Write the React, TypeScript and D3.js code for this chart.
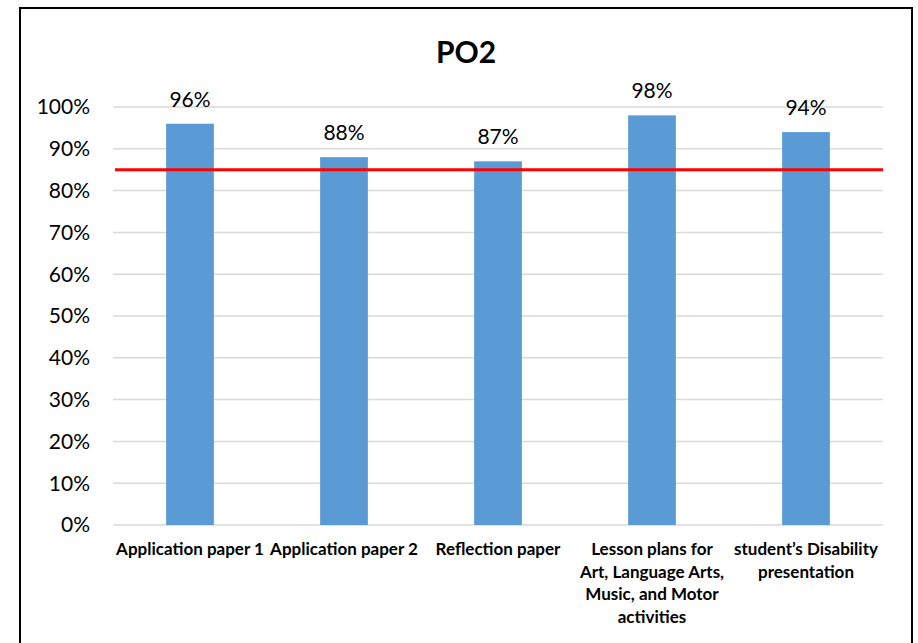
import React from "react";
import * as d3 from "d3";

const categories: string[][] = [
  ["Application paper 1"],
  ["Application paper 2"],
  ["Reflection paper"],
  ["Lesson plans for", "Art, Language Arts,", "Music, and Motor", "activities"],
  ["student\u2019s Disability", "presentation"],
];
const values: number[] = [0.96, 0.88, 0.87, 0.98, 0.94];
const target = 0.85;
const yTicks: number[] = [0, 0.1, 0.2, 0.3, 0.4, 0.5, 0.6, 0.7, 0.8, 0.9, 1.0];
const title = "PO2";

export default function App() {
  const W = 918;
  const H = 643;
  const left = 113;
  const right = 883;
  const top = 107;
  const bottom = 525;
  const font = "Lato, 'Open Sans', sans-serif";

  const x = d3
    .scaleBand<number>()
    .domain(values.map((_, i) => i))
    .range([left, right])
    .paddingInner(0.69)
    .paddingOuter(0.345);
  const y = d3.scaleLinear().domain([0, 1]).range([bottom, top]);
  const fmt = d3.format(".0%");

  return (
    <div style={{ position: "fixed", left: 0, top: 0, width: W, height: H, background: "#fff" }}>
      <svg width={W} height={H} style={{ display: "block" }}>
        <rect x={0} y={0} width={W} height={H} fill="#fff" />
        <rect x={20} y={8} width={892} height={H + 10} fill="none" stroke="#000" strokeWidth={2} />
        <text x={466} y={63} textAnchor="middle" fontFamily={font} fontWeight="bold" fontSize={30} fill="#000">
          {title}
        </text>
        {yTicks.map((t) => (
          <g key={t}>
            <line x1={left} x2={right} y1={y(t)} y2={y(t)} stroke="#d9d9d9" strokeWidth={1.5} />
            <text x={90} y={y(t)} dy="0.35em" textAnchor="end" fontFamily={font} fontSize={21} fill="#000">
              {fmt(t)}
            </text>
          </g>
        ))}
        {values.map((v, i) => (
          <g key={i}>
            <rect x={x(i)} y={y(v)} width={x.bandwidth()} height={y(0) - y(v)} fill="#5b9bd5" />
            <text
              x={(x(i) as number) + x.bandwidth() / 2}
              y={y(v) - 17}
              textAnchor="middle"
              fontFamily={font}
              fontSize={21}
              fill="#000"
            >
              {fmt(v)}
            </text>
          </g>
        ))}
        <line x1={115} x2={right} y1={y(target)} y2={y(target)} stroke="#ff0000" strokeWidth={3} />
        {categories.map((lines, i) => (
          <text
            key={i}
            x={(x(i) as number) + x.bandwidth() / 2}
            textAnchor="middle"
            fontFamily={font}
            fontWeight="bold"
            fontSize={17}
            fill="#000"
          >
            {lines.map((l, j) => (
              <tspan key={j} x={(x(i) as number) + x.bandwidth() / 2} y={549 + j * 22.7} dy="0.35em">
                {l}
              </tspan>
            ))}
          </text>
        ))}
      </svg>
    </div>
  );
}
